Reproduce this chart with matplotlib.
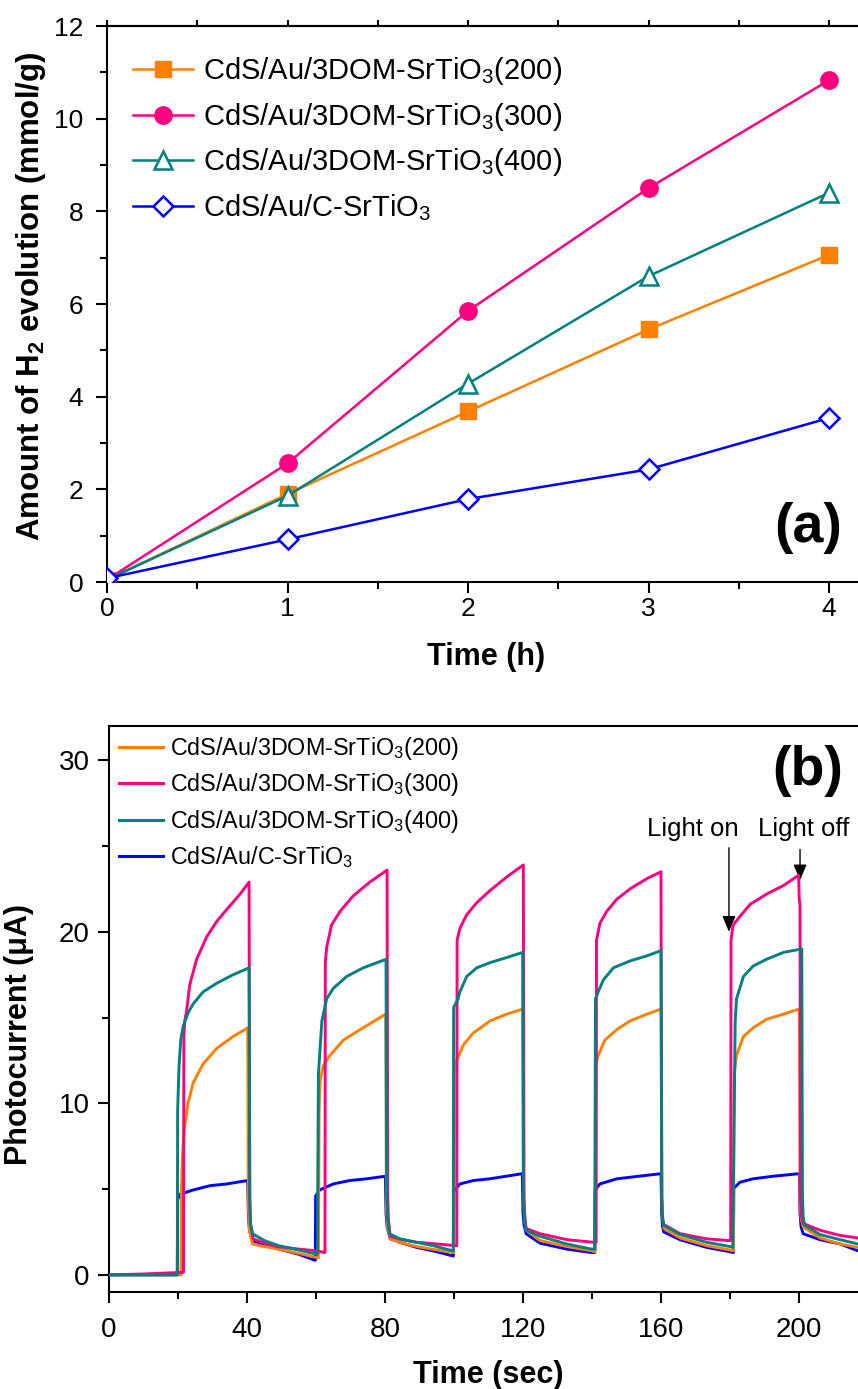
import matplotlib
matplotlib.use("Agg")
import matplotlib.pyplot as plt
from matplotlib.ticker import MultipleLocator
from matplotlib.lines import Line2D

plt.rcParams['font.family'] = ['Liberation Sans', 'DejaVu Sans']
plt.rcParams['mathtext.fontset'] = 'custom'
plt.rcParams['mathtext.rm'] = 'Liberation Sans'
plt.rcParams['mathtext.it'] = 'Liberation Sans:italic'
plt.rcParams['mathtext.bf'] = 'Liberation Sans:bold'

# ---------------- Panel (a) data ----------------
time_h = [0, 1, 2, 3, 4]
h2_200 = [0.05, 1.90, 3.68, 5.45, 7.06]
h2_300 = [0.05, 2.56, 5.85, 8.50, 10.83]
h2_400 = [0.05, 1.86, 4.28, 6.60, 8.40]
h2_C = [0.08, 0.92, 1.79, 2.43, 3.54]

labels = ['CdS/Au/3DOM-SrTiO$_3$(200)', 'CdS/Au/3DOM-SrTiO$_3$(300)',
          'CdS/Au/3DOM-SrTiO$_3$(400)', 'CdS/Au/C-SrTiO$_3$']
colors = ['#FF8000', '#FF0080', '#008080', '#0000FF']

# ---------------- Panel (b) data ----------------
t200 = [0, 10, 20.9, 21.0, 21.3, 21.8, 22.9, 24.4, 27.3, 31.2, 36.0, 40.2,
        40.4, 40.7, 41.6, 45.0, 49.2, 55.0, 60.5,
        60.7, 60.9, 61.2, 62.1, 64.1, 68.0, 72.8, 80.2,
        80.4, 80.7, 81.5, 85.0, 89.2, 95.0, 99.8,
        99.9, 100.1, 101.2, 102.7, 105.6, 110.4, 115.3, 120.0,
        120.2, 120.5, 120.9, 124.9, 132.7, 139.9, 140.8,
        140.9, 141.1, 141.8, 143.8, 147.2, 151.0, 155.9, 160.1,
        160.3, 160.5, 160.9, 165.5, 173.2, 180.0, 180.9,
        181.0, 181.2, 181.9, 183.9, 186.7, 190.6, 195.5, 200.1,
        200.3, 200.6, 201.2, 206.1, 211.9, 217.1, 220]
I200 = [0.0, 0.0, 0.0, 5.0, 7.0, 8.5, 10.0, 11.2, 12.3, 13.2, 13.9, 14.4,
        4.0, 2.6, 1.8, 1.65, 1.5, 1.25, 1.0,
        1.0, 9.6, 11.3, 12.2, 12.8, 13.7, 14.3, 15.2,
        4.0, 2.8, 2.1, 1.85, 1.65, 1.45, 1.3,
        1.3, 12.2, 12.7, 13.4, 14.1, 14.8, 15.2, 15.5,
        4.5, 3.2, 2.6, 2.0, 1.65, 1.4, 1.35,
        1.35, 12.2, 12.8, 13.7, 14.3, 14.8, 15.2, 15.5,
        4.5, 3.3, 2.7, 2.15, 1.7, 1.45, 1.4,
        1.4, 11.7, 12.8, 13.9, 14.4, 14.9, 15.2, 15.5,
        4.5, 3.3, 2.8, 2.15, 1.8, 1.6, 1.55]

t300 = [0, 10, 21.6, 21.7, 21.96, 22.5, 23.4, 25.4, 28.3, 31.2, 34.1, 38.0, 40.6,
        40.8, 41.0, 41.8, 45.0, 48.6, 55.0, 60.2, 62.5,
        62.6, 62.7, 63.1, 64.5, 67.0, 70.8, 75.6, 80.6,
        80.8, 81.0, 81.5, 85.0, 89.2, 95.0, 100.7,
        100.8, 100.9, 101.7, 103.7, 106.6, 110.4, 115.3, 120.1,
        120.3, 120.5, 120.9, 124.9, 132.7, 140.4, 141.1,
        141.2, 141.3, 142.3, 144.3, 147.2, 151.0, 155.9, 160.0,
        160.2, 160.4, 160.7, 165.5, 173.2, 179.5, 180.1,
        180.2, 180.3, 180.9, 182.9, 185.8, 190.6, 195.5, 199.9,
        200.05, 200.3, 200.45, 200.7, 201.2, 206.1, 211.9, 217.1, 220]
I300 = [0.0, 0.05, 0.15, 13.9, 14.8, 15.4, 16.9, 18.4, 19.7, 20.6, 21.3, 22.2, 22.9,
        4.5, 3.0, 2.1, 1.85, 1.65, 1.5, 1.4, 1.3,
        1.3, 18.2, 19.1, 20.4, 21.2, 22.1, 22.9, 23.6,
        4.5, 3.2, 2.25, 2.05, 1.9, 1.8, 1.7,
        1.7, 19.5, 20.2, 21.0, 21.7, 22.4, 23.2, 23.9,
        4.5, 3.5, 2.7, 2.4, 2.05, 1.9, 1.9,
        1.9, 19.5, 20.5, 21.2, 21.9, 22.5, 23.1, 23.5,
        4.5, 3.4, 2.95, 2.4, 2.1, 2.0, 2.0,
        2.0, 19.5, 20.4, 20.9, 21.6, 22.2, 22.7, 23.3,
        22.0, 21.5, 4.5, 3.4, 3.0, 2.6, 2.3, 2.15, 2.1]

t400 = [0, 10, 19.8, 19.9, 20.3, 20.8, 21.5, 23.0, 24.4, 27.3, 31.2, 36.0, 40.6,
        40.8, 41.0, 41.6, 45.0, 49.2, 55.0, 60.3,
        60.4, 60.7, 61.7, 63.1, 65.0, 68.9, 73.7, 80.3,
        80.5, 80.8, 81.3, 84.3, 89.0, 94.0, 99.6,
        99.8, 99.9, 101.2, 101.7, 103.7, 106.6, 110.4, 115.3, 119.9,
        120.1, 120.4, 120.9, 124.9, 132.7, 139.9, 140.7,
        140.8, 141.0, 141.8, 143.3, 146.2, 151.0, 155.9, 160.0,
        160.2, 160.4, 160.7, 165.5, 173.2, 180.0, 180.7,
        180.8, 181.5, 181.9, 183.9, 186.7, 190.6, 195.5, 200.8,
        201.0, 201.2, 201.6, 206.1, 211.9, 217.1, 220]
I400 = [0.0, 0.0, 0.0, 9.6, 12.2, 13.7, 14.5, 15.3, 15.8, 16.5, 17.0, 17.5, 17.9,
        4.5, 3.0, 2.4, 2.0, 1.7, 1.45, 1.2,
        1.2, 11.7, 14.8, 16.1, 16.7, 17.4, 17.9, 18.4,
        4.5, 3.2, 2.4, 2.1, 1.9, 1.7, 1.4,
        1.4, 15.6, 16.1, 16.5, 17.4, 17.9, 18.2, 18.5, 18.8,
        4.5, 3.2, 2.6, 2.25, 1.8, 1.5, 1.5,
        1.5, 16.1, 16.5, 17.2, 17.9, 18.3, 18.6, 18.9,
        4.5, 3.4, 2.9, 2.35, 1.9, 1.65, 1.6,
        1.6, 14.8, 16.1, 17.4, 18.0, 18.4, 18.8, 19.0,
        4.5, 3.4, 2.9, 2.35, 2.05, 1.8, 1.75]

tC = [0, 10, 19.8, 19.9, 20.6, 24.4, 29.3, 34.1, 40.2,
      40.4, 40.7, 41.6, 45.0, 49.2, 55.0, 59.7,
      59.8, 59.9, 61.1, 65.0, 69.8, 74.7, 80.1,
      80.3, 80.6, 81.5, 85.0, 89.2, 95.0, 99.7,
      99.8, 99.9, 101.7, 105.6, 110.4, 119.8,
      120.0, 120.3, 120.9, 124.9, 132.7, 139.9, 140.7,
      140.8, 140.9, 142.3, 147.2, 160.0,
      160.2, 160.4, 160.8, 165.5, 173.2, 180.0, 180.9,
      181.0, 181.1, 182.9, 186.7, 192.5, 200.1,
      200.3, 200.6, 201.2, 206.1, 211.9, 217.1, 220]
IC = [0.0, 0.0, 0.0, 4.4, 4.7, 4.95, 5.2, 5.3, 5.5,
      3.5, 2.6, 2.0, 1.75, 1.5, 1.2, 0.85,
      0.85, 4.6, 4.95, 5.3, 5.5, 5.6, 5.75,
      3.6, 2.8, 2.1, 1.85, 1.6, 1.35, 1.1,
      1.1, 4.85, 5.3, 5.5, 5.6, 5.9,
      3.6, 2.9, 2.4, 1.85, 1.5, 1.3, 1.3,
      1.3, 4.95, 5.3, 5.6, 5.9,
      3.6, 2.9, 2.5, 2.05, 1.6, 1.35, 1.3,
      1.3, 5.05, 5.4, 5.6, 5.75, 5.9,
      3.6, 2.8, 2.4, 2.05, 1.8, 1.4, 1.35]

W, H = 858, 1389
fig = plt.figure(figsize=(W / 100, H / 100), dpi=100)

def frac_box(left, top, right_px, bottom):
    return [left / W, 1 - bottom / H, (right_px - left) / W, (bottom - top) / H]

# ---------------- Panel (a) ----------------
ax1 = fig.add_axes(frac_box(107, 26, 107 + 4.2 * 180.5, 582))
lw = 1.8
ax1.plot(time_h, h2_200, color=colors[0], lw=lw, marker='s', ms=11.5,
         mfc=colors[0], mec=colors[0], label=labels[0], zorder=3)
ax1.plot(time_h, h2_300, color=colors[1], lw=lw, marker='o', ms=12.5,
         mfc=colors[1], mec=colors[1], label=labels[1], zorder=3)
ax1.plot(time_h, h2_400, color=colors[2], lw=lw, marker='^', ms=12.5,
         mfc='white', mec=colors[2], mew=1.8, label=labels[2], zorder=4)
ax1.plot(time_h, h2_C, color=colors[3], lw=lw, marker='D', ms=10,
         mfc='white', mec=colors[3], mew=1.8, label=labels[3], zorder=4)
ax1.set_xlim(0, 4.2)
ax1.set_ylim(0, 12)
ax1.xaxis.set_major_locator(MultipleLocator(1))
ax1.xaxis.set_minor_locator(MultipleLocator(0.5))
ax1.yaxis.set_major_locator(MultipleLocator(2))
ax1.yaxis.set_minor_locator(MultipleLocator(1))
ax1.tick_params(which='both', direction='out', width=1.5, labelsize=19)
ax1.tick_params(which='major', length=8)
ax1.tick_params(which='minor', length=5)
ax1.tick_params(axis='y', pad=9)
ax1.tick_params(axis='x', pad=3)
sec = ax1.secondary_xaxis('top')
sec.xaxis.set_major_locator(MultipleLocator(0.5))
sec.tick_params(direction='out', length=4, width=1.5, labelsize=0, labeltop=False)
sec.spines['top'].set_linewidth(1.5)
for s in ax1.spines.values():
    s.set_linewidth(1.5)
ax1.set_xlabel('Time (h)', fontsize=22, fontweight='bold', labelpad=15)
ax1.set_ylabel('Amount of H$_\\mathbf{2}$ evolution (mmol/g)', fontsize=22.5,
               fontweight='bold')
ax1.yaxis.set_label_coords(-0.078, 0.513)
ax1.legend(loc='upper left', bbox_to_anchor=(0.034, 0.947), frameon=False,
           fontsize=21, handlelength=2.05, handletextpad=0.35,
           labelspacing=0.46, borderpad=0, borderaxespad=0)
ax1.text(0.925, 0.097, '(a)', transform=ax1.transAxes, fontsize=40,
         fontweight='bold', ha='center', va='center')

# ---------------- Panel (b) ----------------
ax2 = fig.add_axes(frac_box(109, 726, 109 + 220 * 3.45, 1292))
lw2 = 2.1
ax2.plot(tC, IC, color=colors[3], lw=lw2, zorder=2)
ax2.plot(t200, I200, color=colors[0], lw=lw2, zorder=3)
ax2.plot(t300, I300, color=colors[1], lw=lw2, zorder=4)
ax2.plot(t400, I400, color=colors[2], lw=lw2, zorder=5)
handles = [Line2D([], [], color=c, lw=2.2) for c in colors]
ax2.legend(handles, labels, loc='upper left', bbox_to_anchor=(0.013, 0.984),
           frameon=False, fontsize=16.8, handlelength=1.9, handletextpad=0.3,
           labelspacing=0.4, borderpad=0, borderaxespad=0)
ax2.set_xlim(0, 220)
ax2.set_ylim(-1, 32)
ax2.xaxis.set_major_locator(MultipleLocator(40))
ax2.xaxis.set_minor_locator(MultipleLocator(20))
ax2.yaxis.set_major_locator(MultipleLocator(10))
ax2.yaxis.set_minor_locator(MultipleLocator(5))
ax2.tick_params(which='both', direction='out', width=1.5, labelsize=20)
ax2.tick_params(which='major', length=8)
ax2.tick_params(which='minor', length=5)
ax2.tick_params(axis='y', pad=6)
ax2.tick_params(axis='x', pad=10)
for s in ax2.spines.values():
    s.set_linewidth(1.5)
ax2.set_xlabel('Time (sec)', fontsize=22, fontweight='bold', labelpad=12)
ax2.set_ylabel('Photocurrent (\u03bcA)', fontsize=22, fontweight='bold')
ax2.yaxis.set_label_coords(-0.099, 0.455)
ax2.text(0.92, 0.9205, '(b)', transform=ax2.transAxes, fontsize=40,
         fontweight='bold', ha='center', va='center')
ax2.text(169.3, 26.0, 'Light on', fontsize=18.5, ha='center', va='center')
ax2.text(201.3, 26.0, 'Light off', fontsize=18.5, ha='center', va='center',
         clip_on=False)
arrow_kw = dict(arrowstyle='-|>,head_length=0.6,head_width=0.25', color='black',
                lw=1.0, mutation_scale=16, shrinkA=0, shrinkB=0)
ax2.annotate('', xy=(179.7, 20.0), xytext=(179.7, 24.9), arrowprops=arrow_kw)
ax2.annotate('', xy=(200.3, 23.0), xytext=(200.3, 24.8), arrowprops=arrow_kw)

fig.savefig('out.png', dpi=100)
